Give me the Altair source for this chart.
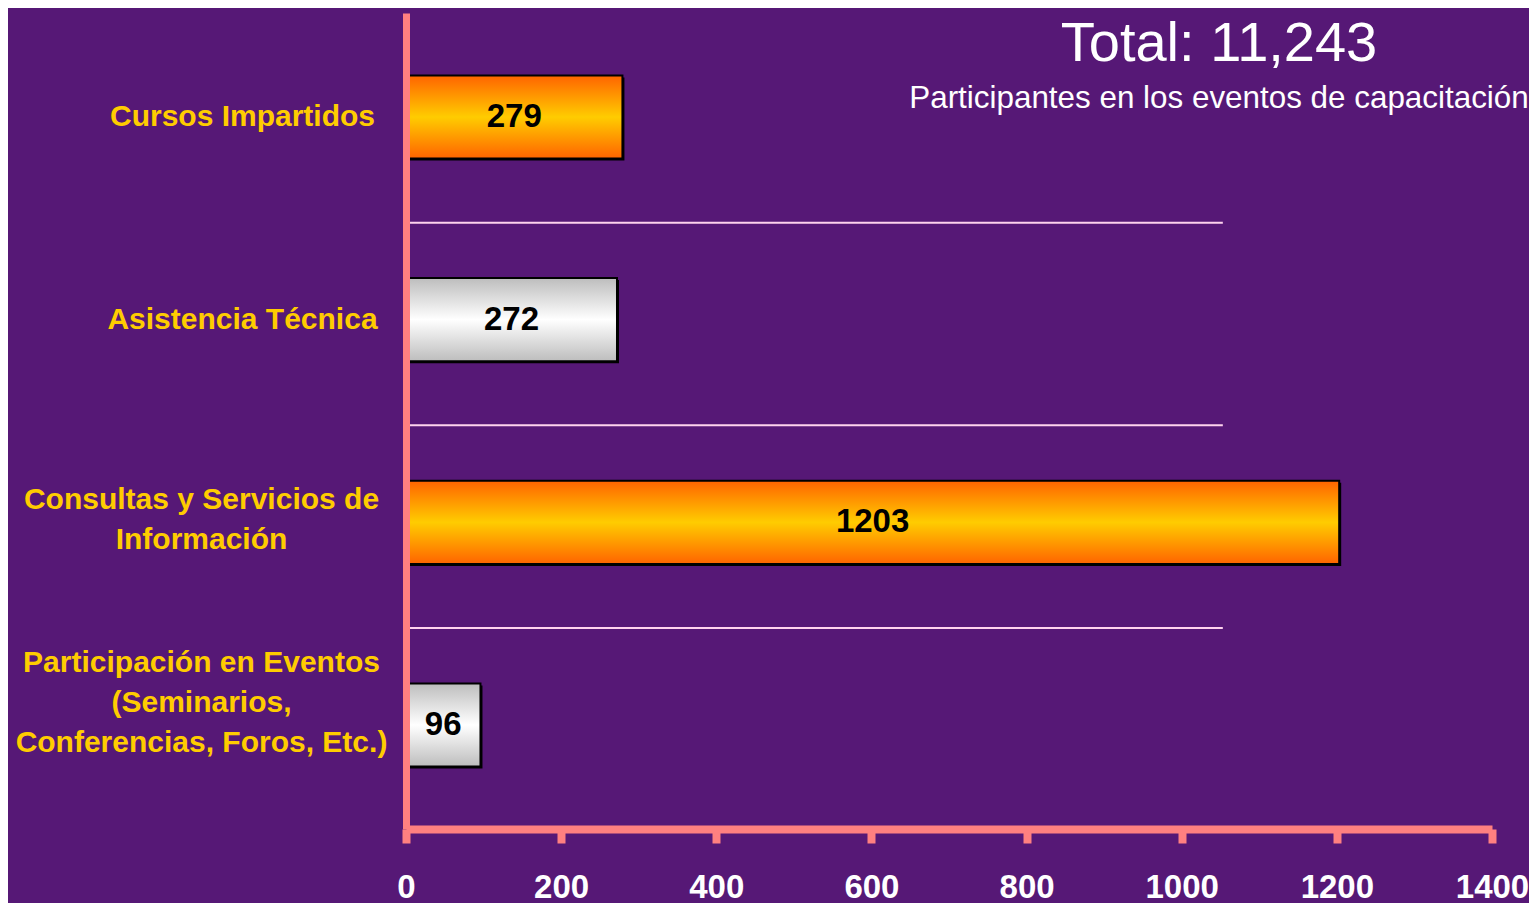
import altair as alt
import pandas as pd

# ---- data ----
categories = [
    "Cursos Impartidos",
    "Asistencia Técnica",
    "Consultas y Servicios de\nInformación",
    "Participación en Eventos\n(Seminarios,\nConferencias, Foros, Etc.)",
]
values = [279, 272, 1203, 96]
x_ticks = [0, 200, 400, 600, 800, 1000, 1200, 1400]
title_text = "Total: 11,243"
subtitle_text = "Participantes en los eventos de capacitación"

df = pd.DataFrame({"category": categories, "value": values})

# ---- styles ----
FONT = "Liberation Sans"
AXIS_COLOR = "#FF8080"
BG = "#561876"
GRID_END = 1053

orange = {
    "gradient": "linear", "x1": 0, "y1": 0, "x2": 0, "y2": 1,
    "stops": [
        {"offset": 0, "color": "#FF6400"},
        {"offset": 0.5, "color": "#FFCC00"},
        {"offset": 1, "color": "#FF6400"},
    ],
}
silver = {
    "gradient": "linear", "x1": 0, "y1": 0, "x2": 0, "y2": 1,
    "stops": [
        {"offset": 0, "color": "#BDBDBD"},
        {"offset": 0.5, "color": "#FFFFFF"},
        {"offset": 1, "color": "#BDBDBD"},
    ],
}

x_scale = alt.Scale(domain=[0, 1400], nice=False, zero=True)
y_scale = alt.Scale(domain=categories, paddingInner=0.59, paddingOuter=0.308)

x_axis = alt.Axis(
    orient="bottom", values=x_ticks, format="d", grid=False, title=None, zindex=1,
    domainColor=AXIS_COLOR, domainWidth=8,
    tickColor=AXIS_COLOR, tickWidth=8, tickSize=14,
    labelColor="white", labelFont=FONT, labelFontSize=33, labelFontWeight="bold",
    labelPadding=28, labelFlush=False, labelOverlap=False,
)

y_axis = alt.Axis(
    orient="left", grid=False, ticks=False, tickSize=0, title=None, zindex=1,
    domainColor=AXIS_COLOR, domainWidth=7,
    labelColor="#FFCC00", labelFont=FONT, labelFontSize=30, labelFontWeight="bold",
    labelAlign="center", labelBaseline="middle", labelLineHeight=40,
    labelLimit=1000, labelOverlap=False,
    labelExpr="split(datum.label, '\\n')",
    labelPadding={"condition": {"test": "indexof(datum.value, '\\n') < 0", "value": 164}, "value": 205},
    labelOffset={
        "condition": [
            {"test": "length(split(datum.value, '\\n')) > 2", "value": -62},
            {"test": "length(split(datum.value, '\\n')) > 1", "value": -22},
        ],
        "value": 0,
    },
)

base = alt.Chart(df).transform_window(idx="row_number()")

y_enc = alt.Y("category:N", scale=y_scale, axis=y_axis)

# grid lines between categories (drawn above every category but the first)
rules = (
    base.transform_filter("datum.idx > 1")
    .mark_rule(color="#FFD3EE", strokeWidth=2, yOffset=-97)
    .encode(
        y=y_enc,
        x=alt.X(datum=0, scale=x_scale, axis=x_axis),
        x2=alt.X2(datum=GRID_END),
    )
)

shadow = base.mark_bar(color="black", xOffset=2, yOffset=2).encode(
    y=y_enc, x=alt.X("value:Q", scale=x_scale, axis=x_axis)
)
bars = base.mark_bar(stroke="black", strokeWidth=2).encode(
    y=y_enc,
    x=alt.X("value:Q", scale=x_scale, axis=x_axis),
    fill={"condition": {"test": "datum.idx % 2 == 1", "value": orange}, "value": silver},
)
labels = (
    base.transform_calculate(mid="datum.value / 2")
    .mark_text(font=FONT, fontSize=33, fontWeight="bold", color="black", align="center", baseline="middle")
    .encode(y=y_enc, x=alt.X("mid:Q", scale=x_scale, axis=x_axis), text=alt.Text("value:Q"))
)

chart = (
    alt.layer(rules, shadow, bars, labels)
    .properties(
        width=1086,
        height=816,
        autosize=alt.AutoSizeParams(type="none"),
        padding={"left": 398, "top": 5, "right": 37, "bottom": 74},
        background=BG,
        title=alt.TitleParams(
            text=title_text, subtitle=subtitle_text,
            anchor="middle", frame="group", dx=270, dy=102, offset=0,
            font=FONT, fontSize=56, fontWeight="normal", color="white",
            subtitleFont=FONT, subtitleFontSize=31.4, subtitleColor="white", subtitlePadding=10,
        ),
    )
    .configure_view(stroke=None)
)

chart.save("out.html", embed_options={"renderer": "svg", "actions": False})
